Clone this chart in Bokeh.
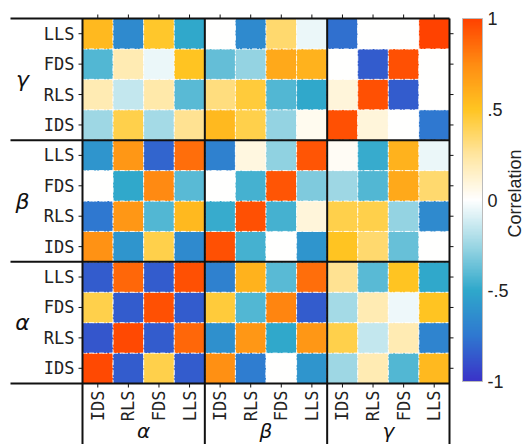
import numpy as np
from bokeh.plotting import figure
from bokeh.models import (ColumnDataSource, LinearColorMapper, ColorBar, FixedTicker, Range1d)
from bokeh.transform import transform
from bokeh.core.properties import value
from bokeh.embed import file_html
from bokeh.resources import INLINE

# ---------------- data ----------------
groups = ["α", "β", "γ"]
measures = ["IDS", "RLS", "FDS", "LLS"]
# variable order (columns left->right, rows bottom->top)
labels = [m for g in groups for m in measures]

# correlation rows, one per variable in the order above
corr_a_IDS = [0.97, -0.85, 0.42, -0.85, 0.73, -0.72, 0.00, -0.60, -0.25, 0.20, -0.42, 0.55]
corr_a_RLS = [-0.87, 0.97, -0.85, 0.87, -0.62, 0.70, -0.50, 0.70, 0.42, -0.15, 0.20, -0.68]
corr_a_FDS = [0.42, -0.85, 0.95, -0.85, 0.45, -0.42, 0.77, -0.85, -0.23, 0.20, -0.04, 0.50]
corr_a_LLS = [-0.85, 0.87, -0.85, 0.95, -0.70, 0.58, -0.40, 0.85, 0.28, -0.40, 0.50, -0.50]
corr_b_IDS = [0.72, -0.60, 0.42, -0.65, 0.95, -0.45, 0.00, -0.60, 0.50, 0.35, -0.37, 0.00]
corr_b_RLS = [-0.75, 0.70, -0.42, 0.55, -0.48, 0.95, -0.45, 0.10, 0.42, 0.42, -0.27, -0.65]
corr_b_FDS = [0.00, -0.50, 0.75, -0.40, 0.00, -0.45, 0.93, -0.32, -0.25, -0.42, 0.62, 0.35]
corr_b_LLS = [-0.60, 0.70, -0.82, 0.85, -0.70, 0.08, -0.28, 0.93, 0.03, -0.48, 0.58, -0.05]
corr_g_IDS = [-0.25, 0.42, -0.23, 0.28, 0.55, 0.42, -0.27, 0.04, 0.95, 0.10, 0.00, -0.75]
corr_g_RLS = [0.20, -0.15, 0.22, -0.40, 0.32, 0.45, -0.42, -0.50, 0.10, 0.95, -0.85, 0.00]
corr_g_FDS = [-0.42, 0.20, -0.05, 0.50, -0.38, -0.27, 0.62, 0.58, 0.00, -0.85, 0.95, 0.00]
corr_g_LLS = [0.55, -0.65, 0.48, -0.50, 0.00, -0.65, 0.35, -0.05, -0.78, 0.00, 0.00, 1.00]

corr = [corr_a_IDS, corr_a_RLS, corr_a_FDS, corr_a_LLS,
        corr_b_IDS, corr_b_RLS, corr_b_FDS, corr_b_LLS,
        corr_g_IDS, corr_g_RLS, corr_g_FDS, corr_g_LLS]

cbar_ticks = [-1, -0.5, 0, 0.5, 1]
cbar_tick_labels = ["-1", "-.5", "0", ".5", "1"]

# ---------------- colormap ----------------
stops = [-1, -0.75, -0.5, -0.25, 0, 0.25, 0.5, 0.75, 1]
stop_cols = ["#3a33c8", "#2f78d0", "#2fa8cb", "#9dd7e4", "#ffffff",
             "#ffe6a0", "#ffc522", "#ff8c12", "#ff4200"]
rgb = np.array([[int(c[i:i + 2], 16) for i in (1, 3, 5)] for c in stop_cols], float)
tt = np.linspace(-1, 1, 256)
pal = []
for t in tt:
    r, g, b = (np.interp(t, stops, rgb[:, k]) for k in range(3))
    pal.append("#%02x%02x%02x" % (int(round(r)), int(round(g)), int(round(b))))
mapper = LinearColorMapper(palette=pal, low=-1, high=1)

# ---------------- layout (pixels) ----------------
W, H = 526, 444
L, R, T, B = 82, 449, 18, 383
n = len(labels)
cw = (R - L) / n
ch = (B - T) / n

p = figure(width=W, height=H, output_backend="svg", toolbar_location=None,
           x_range=Range1d(-L / cw, (W - L) / cw), y_range=Range1d(-(H - B) / ch, n + T / ch),
           x_axis_location=None, y_axis_location=None, min_border=0)
p.grid.visible = False
p.outline_line_color = None
p.background_fill_color = "white"

xs, ys, vs = [], [], []
for i, row in enumerate(corr):
    for j, v in enumerate(row):
        xs.append(j + 0.5)
        ys.append(i + 0.5)
        vs.append(v)
src = ColumnDataSource(dict(x=xs, y=ys, v=vs))
p.rect(x="x", y="y", width=1, height=1, source=src,
       fill_color=transform("v", mapper), line_color="white",
       line_dash="5 2 1 2", line_width=1, line_alpha=0.9)

ink = "#111111"
# ticks
pos = [k + 0.5 for k in range(n)]
tk = 4
p.segment(x0=[0] * n, y0=pos, x1=[-tk / cw] * n, y1=pos, line_color=ink, line_width=1)
p.segment(x0=[n] * n, y0=pos, x1=[n + tk / cw] * n, y1=pos, line_color=ink, line_width=1)
p.segment(x0=pos, y0=[n] * n, x1=pos, y1=[n + tk / ch] * n, line_color=ink, line_width=1)
p.segment(x0=pos, y0=[0] * n, x1=pos, y1=[-tk / ch] * n, line_color=ink, line_width=1)

# group boundary lines
bounds = [0, 4, 8, 12]
p.segment(x0=[-(L - 10) / cw] * 4, y0=bounds, x1=[n] * 4, y1=bounds, line_color=ink, line_width=2)
p.segment(x0=bounds, y0=[n] * 4, x1=bounds, y1=[-(H - B) / ch] * 4, line_color=ink, line_width=2)

# tick labels
mono = value("DejaVu Sans Mono")
p.text(x=[-8 / cw] * n, y=pos, text=labels, text_font=mono, text_font_size="17px",
       text_align="right", text_baseline="middle", text_color="#222222")
p.text(x=pos, y=[-7 / ch] * n, text=labels, text_font=mono, text_font_size="17px",
       text_align="right", text_baseline="middle", angle=np.pi / 2, text_color="#222222")

# group labels
gc = [2, 6, 10]
p.text(x=[-(L - 22) / cw] * 3, y=gc, text=groups, text_font=value("DejaVu Sans"),
       text_font_style="italic", text_font_size="22px", text_align="center",
       text_baseline="middle", text_color="#111111")
p.text(x=gc, y=[-(430 - B) / ch] * 3, text=groups, text_font=value("DejaVu Sans"),
       text_font_style="italic", text_font_size="20px", text_align="center",
       text_baseline="middle", text_color="#111111")

# colorbar
cb = ColorBar(color_mapper=mapper, location=(462, H - 381), width=20, height=363,
              padding=0, margin=0, ticker=FixedTicker(ticks=cbar_ticks),
              major_label_overrides={t: s for t, s in zip(cbar_ticks, cbar_tick_labels)},
              major_label_text_font="Liberation Sans", major_label_text_font_size="18px",
              major_label_text_color="#222222", label_standoff=5,
              major_tick_line_color=None, minor_tick_line_color=None,
              bar_line_color="#bbbbbb", border_line_color=None, background_fill_alpha=0)
p.add_layout(cb, "center")

p.text(x=[(514 - L) / cw], y=[(B - 193) / ch], text=["Correlation"],
       text_font=value("Liberation Sans"), text_font_size="18px", angle=np.pi / 2,
       text_align="center", text_baseline="middle", text_color="#222222")

open("out.html", "w").write(file_html(p, INLINE))
